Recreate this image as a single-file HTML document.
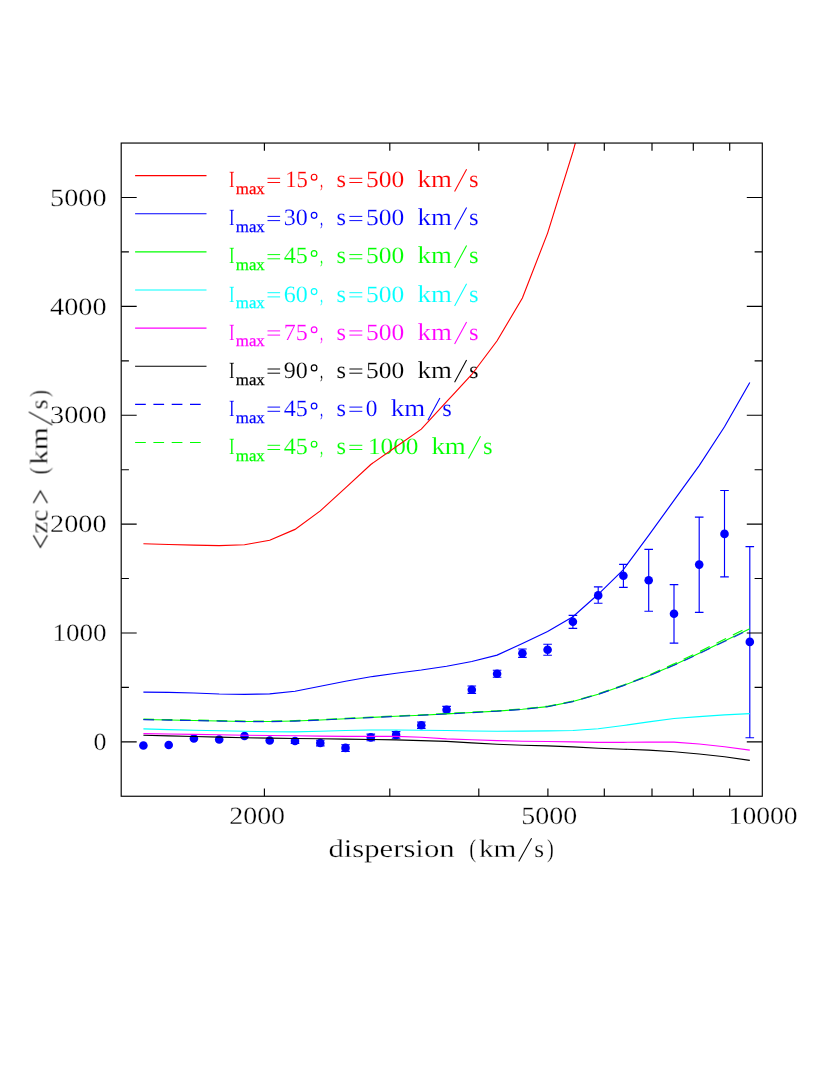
<!DOCTYPE html>
<html><head><meta charset="utf-8"><title>plot</title>
<style>
html,body{margin:0;padding:0;background:#fff;}
body{width:830px;height:1075px;overflow:hidden;}
svg{display:block;}
text{font-family:"Liberation Serif",serif;stroke:#fff;stroke-width:0.28px;paint-order:fill stroke;text-rendering:geometricPrecision;}
.lg text{stroke-width:0.14px;}
</style></head><body>
<svg width="830" height="1075" viewBox="0 0 830 1075">
<rect width="830" height="1075" fill="#fff"/>
<defs><clipPath id="c"><rect x="121.2" y="143.05" width="641.1" height="653.2"/></clipPath><filter id="f" filterUnits="userSpaceOnUse" x="0" y="0" width="830" height="1075"><feOffset dx="0" dy="0"/></filter></defs>
<g filter="url(#f)">
<path d="M135.1,175.6H206.5" stroke="#ff0000" stroke-width="1.15"/>
<g fill="#ff0000" class="lg"><text transform="translate(229.00,187.20) scale(0.7249,1.0000)" font-size="23.2">I</text><text transform="translate(235.80,193.80) scale(1.0269,1.0000)" font-size="16.4" style="stroke:#ff0000;stroke-width:0.25px">max</text><path d="M267.5,178.3H280.1M267.5,182.5H280.1" stroke="#ff0000" stroke-width="0.95" fill="none"/><text transform="translate(285.20,187.20) scale(0.9701,1.0000)" font-size="23.4">15</text><ellipse cx="314.1" cy="177.20" rx="2.8" ry="2.95" fill="none" stroke="#ff0000" stroke-width="1.2"/><text transform="translate(320.00,187.20) scale(0.5299,1.0000)" font-size="23.4">,</text><text transform="translate(336.60,187.20) scale(1.0092,1.0000)" font-size="24.2">s</text><path d="M349.4,178.3H362.3M349.4,182.5H362.3" stroke="#ff0000" stroke-width="0.95" fill="none"/><text transform="translate(366.10,187.20) scale(1.0912,1.0000)" font-size="23.4">500</text><text transform="translate(417.50,187.20) scale(1.1123,1.0000)" font-size="24.2">km</text><path d="M454.6,191.5L466.6,169.3" stroke="#ff0000" stroke-width="1.05" fill="none"/><text transform="translate(469.00,187.20) scale(1.0198,1.0000)" font-size="24.2">s</text></g>
<path d="M135.1,213.7H206.5" stroke="#0000ff" stroke-width="1.15"/>
<g fill="#0000ff" class="lg"><text transform="translate(229.00,225.34) scale(0.7249,1.0000)" font-size="23.2">I</text><text transform="translate(235.80,231.94) scale(1.0269,1.0000)" font-size="16.4" style="stroke:#0000ff;stroke-width:0.25px">max</text><path d="M267.5,216.4H280.1M267.5,220.6H280.1" stroke="#0000ff" stroke-width="0.95" fill="none"/><text transform="translate(283.80,225.34) scale(1.0299,1.0000)" font-size="23.4">30</text><ellipse cx="314.1" cy="215.34" rx="2.8" ry="2.95" fill="none" stroke="#0000ff" stroke-width="1.2"/><text transform="translate(320.00,225.34) scale(0.5299,1.0000)" font-size="23.4">,</text><text transform="translate(336.60,225.34) scale(1.0092,1.0000)" font-size="24.2">s</text><path d="M349.4,216.4H362.3M349.4,220.6H362.3" stroke="#0000ff" stroke-width="0.95" fill="none"/><text transform="translate(366.10,225.34) scale(1.0912,1.0000)" font-size="23.4">500</text><text transform="translate(417.50,225.34) scale(1.1123,1.0000)" font-size="24.2">km</text><path d="M454.6,229.6L466.6,207.4" stroke="#0000ff" stroke-width="1.05" fill="none"/><text transform="translate(469.00,225.34) scale(1.0198,1.0000)" font-size="24.2">s</text></g>
<path d="M135.1,251.8H206.5" stroke="#00ff00" stroke-width="1.15"/>
<g fill="#00ff00" class="lg"><text transform="translate(229.00,263.48) scale(0.7249,1.0000)" font-size="23.2">I</text><text transform="translate(235.80,270.08) scale(1.0269,1.0000)" font-size="16.4" style="stroke:#00ff00;stroke-width:0.25px">max</text><path d="M267.5,254.6H280.1M267.5,258.8H280.1" stroke="#00ff00" stroke-width="0.95" fill="none"/><text transform="translate(283.80,263.48) scale(1.0299,1.0000)" font-size="23.4">45</text><ellipse cx="314.1" cy="253.48" rx="2.8" ry="2.95" fill="none" stroke="#00ff00" stroke-width="1.2"/><text transform="translate(320.00,263.48) scale(0.5299,1.0000)" font-size="23.4">,</text><text transform="translate(336.60,263.48) scale(1.0092,1.0000)" font-size="24.2">s</text><path d="M349.4,254.6H362.3M349.4,258.8H362.3" stroke="#00ff00" stroke-width="0.95" fill="none"/><text transform="translate(366.10,263.48) scale(1.0912,1.0000)" font-size="23.4">500</text><text transform="translate(417.50,263.48) scale(1.1123,1.0000)" font-size="24.2">km</text><path d="M454.6,267.8L466.6,245.6" stroke="#00ff00" stroke-width="1.05" fill="none"/><text transform="translate(469.00,263.48) scale(1.0198,1.0000)" font-size="24.2">s</text></g>
<path d="M135.1,290.0H206.5" stroke="#00ffff" stroke-width="1.15"/>
<g fill="#00ffff" class="lg"><text transform="translate(229.00,301.62) scale(0.7249,1.0000)" font-size="23.2">I</text><text transform="translate(235.80,308.22) scale(1.0269,1.0000)" font-size="16.4" style="stroke:#00ffff;stroke-width:0.25px">max</text><path d="M267.5,292.7H280.1M267.5,296.9H280.1" stroke="#00ffff" stroke-width="0.95" fill="none"/><text transform="translate(283.80,301.62) scale(1.0299,1.0000)" font-size="23.4">60</text><ellipse cx="314.1" cy="291.62" rx="2.8" ry="2.95" fill="none" stroke="#00ffff" stroke-width="1.2"/><text transform="translate(320.00,301.62) scale(0.5299,1.0000)" font-size="23.4">,</text><text transform="translate(336.60,301.62) scale(1.0092,1.0000)" font-size="24.2">s</text><path d="M349.4,292.7H362.3M349.4,296.9H362.3" stroke="#00ffff" stroke-width="0.95" fill="none"/><text transform="translate(366.10,301.62) scale(1.0912,1.0000)" font-size="23.4">500</text><text transform="translate(417.50,301.62) scale(1.1123,1.0000)" font-size="24.2">km</text><path d="M454.6,305.9L466.6,283.7" stroke="#00ffff" stroke-width="1.05" fill="none"/><text transform="translate(469.00,301.62) scale(1.0198,1.0000)" font-size="24.2">s</text></g>
<path d="M135.1,328.1H206.5" stroke="#ff00ff" stroke-width="1.15"/>
<g fill="#ff00ff" class="lg"><text transform="translate(229.00,339.76) scale(0.7249,1.0000)" font-size="23.2">I</text><text transform="translate(235.80,346.36) scale(1.0269,1.0000)" font-size="16.4" style="stroke:#ff00ff;stroke-width:0.25px">max</text><path d="M267.5,330.9H280.1M267.5,335.1H280.1" stroke="#ff00ff" stroke-width="0.95" fill="none"/><text transform="translate(283.80,339.76) scale(1.0299,1.0000)" font-size="23.4">75</text><ellipse cx="314.1" cy="329.76" rx="2.8" ry="2.95" fill="none" stroke="#ff00ff" stroke-width="1.2"/><text transform="translate(320.00,339.76) scale(0.5299,1.0000)" font-size="23.4">,</text><text transform="translate(336.60,339.76) scale(1.0092,1.0000)" font-size="24.2">s</text><path d="M349.4,330.9H362.3M349.4,335.1H362.3" stroke="#ff00ff" stroke-width="0.95" fill="none"/><text transform="translate(366.10,339.76) scale(1.0912,1.0000)" font-size="23.4">500</text><text transform="translate(417.50,339.76) scale(1.1123,1.0000)" font-size="24.2">km</text><path d="M454.6,344.1L466.6,321.9" stroke="#ff00ff" stroke-width="1.05" fill="none"/><text transform="translate(469.00,339.76) scale(1.0198,1.0000)" font-size="24.2">s</text></g>
<path d="M135.1,366.2H206.5" stroke="#000000" stroke-width="1.15"/>
<g fill="#000000" class="lg"><text transform="translate(229.00,377.90) scale(0.7249,1.0000)" font-size="23.2">I</text><text transform="translate(235.80,384.50) scale(1.0269,1.0000)" font-size="16.4" style="stroke:#000000;stroke-width:0.25px">max</text><path d="M267.5,369.0H280.1M267.5,373.2H280.1" stroke="#000000" stroke-width="0.95" fill="none"/><text transform="translate(283.80,377.90) scale(1.0299,1.0000)" font-size="23.4">90</text><ellipse cx="314.1" cy="367.90" rx="2.8" ry="2.95" fill="none" stroke="#000000" stroke-width="1.2"/><text transform="translate(320.00,377.90) scale(0.5299,1.0000)" font-size="23.4">,</text><text transform="translate(336.60,377.90) scale(1.0092,1.0000)" font-size="24.2">s</text><path d="M349.4,369.0H362.3M349.4,373.2H362.3" stroke="#000000" stroke-width="0.95" fill="none"/><text transform="translate(366.10,377.90) scale(1.0912,1.0000)" font-size="23.4">500</text><text transform="translate(417.50,377.90) scale(1.1123,1.0000)" font-size="24.2">km</text><path d="M454.6,382.2L466.6,360.0" stroke="#000000" stroke-width="1.05" fill="none"/><text transform="translate(469.00,377.90) scale(1.0198,1.0000)" font-size="24.2">s</text></g>
<path d="M135.1,404.4H206.5" stroke="#0000ff" stroke-width="1.15" stroke-dasharray="10.7 7.6"/>
<g fill="#0000ff" class="lg"><text transform="translate(229.00,416.04) scale(0.7249,1.0000)" font-size="23.2">I</text><text transform="translate(235.80,422.64) scale(1.0269,1.0000)" font-size="16.4" style="stroke:#0000ff;stroke-width:0.25px">max</text><path d="M267.5,407.1H280.1M267.5,411.3H280.1" stroke="#0000ff" stroke-width="0.95" fill="none"/><text transform="translate(283.80,416.04) scale(1.0299,1.0000)" font-size="23.4">45</text><ellipse cx="314.1" cy="406.04" rx="2.8" ry="2.95" fill="none" stroke="#0000ff" stroke-width="1.2"/><text transform="translate(320.00,416.04) scale(0.5299,1.0000)" font-size="23.4">,</text><text transform="translate(336.60,416.04) scale(1.0092,1.0000)" font-size="24.2">s</text><path d="M349.4,407.1H362.3M349.4,411.3H362.3" stroke="#0000ff" stroke-width="0.95" fill="none"/><text transform="translate(365.80,416.04) scale(1.0000,1.0000)" font-size="23.4">0</text><text transform="translate(390.80,416.04) scale(1.1123,1.0000)" font-size="24.2">km</text><path d="M427.9,420.3L439.9,398.1" stroke="#0000ff" stroke-width="1.05" fill="none"/><text transform="translate(442.30,416.04) scale(1.0198,1.0000)" font-size="24.2">s</text></g>
<path d="M135.1,442.5H206.5" stroke="#00ff00" stroke-width="1.15" stroke-dasharray="10.7 7.6"/>
<g fill="#00ff00" class="lg"><text transform="translate(229.00,454.18) scale(0.7249,1.0000)" font-size="23.2">I</text><text transform="translate(235.80,460.78) scale(1.0269,1.0000)" font-size="16.4" style="stroke:#00ff00;stroke-width:0.25px">max</text><path d="M267.5,445.3H280.1M267.5,449.5H280.1" stroke="#00ff00" stroke-width="0.95" fill="none"/><text transform="translate(283.80,454.18) scale(1.0299,1.0000)" font-size="23.4">45</text><ellipse cx="314.1" cy="444.18" rx="2.8" ry="2.95" fill="none" stroke="#00ff00" stroke-width="1.2"/><text transform="translate(320.00,454.18) scale(0.5299,1.0000)" font-size="23.4">,</text><text transform="translate(336.60,454.18) scale(1.0092,1.0000)" font-size="24.2">s</text><path d="M349.4,445.3H362.3M349.4,449.5H362.3" stroke="#00ff00" stroke-width="0.95" fill="none"/><text transform="translate(367.90,454.18) scale(1.0812,1.0000)" font-size="23.4">1000</text><text transform="translate(431.40,454.18) scale(1.1123,1.0000)" font-size="24.2">km</text><path d="M468.5,458.5L480.5,436.3" stroke="#00ff00" stroke-width="1.05" fill="none"/><text transform="translate(482.90,454.18) scale(1.0198,1.0000)" font-size="24.2">s</text></g>
<circle cx="143.4" cy="745.5" r="4.3" fill="#0000ff"/>
<circle cx="168.7" cy="745" r="4.3" fill="#0000ff"/>
<circle cx="193.9" cy="738.5" r="4.3" fill="#0000ff"/>
<circle cx="219.2" cy="739.5" r="4.3" fill="#0000ff"/>
<circle cx="244.5" cy="736" r="4.3" fill="#0000ff"/>
<circle cx="269.7" cy="740.5" r="4.3" fill="#0000ff"/>
<path d="M295.0,738.6V743.4M290.7,738.6h8.6M290.7,743.4h8.6" stroke="#0000ff" stroke-width="1.15" fill="none"/>
<circle cx="295.0" cy="741" r="4.3" fill="#0000ff"/>
<path d="M320.3,740.2V745.8M316.0,740.2h8.6M316.0,745.8h8.6" stroke="#0000ff" stroke-width="1.15" fill="none"/>
<circle cx="320.3" cy="743" r="4.3" fill="#0000ff"/>
<path d="M345.5,744.7V751.3M341.2,744.7h8.6M341.2,751.3h8.6" stroke="#0000ff" stroke-width="1.15" fill="none"/>
<circle cx="345.5" cy="747.9" r="4.3" fill="#0000ff"/>
<path d="M370.8,734.1V740.7M366.5,734.1h8.6M366.5,740.7h8.6" stroke="#0000ff" stroke-width="1.15" fill="none"/>
<circle cx="370.8" cy="737.4" r="4.3" fill="#0000ff"/>
<path d="M396.1,731.6V738.2M391.8,731.6h8.6M391.8,738.2h8.6" stroke="#0000ff" stroke-width="1.15" fill="none"/>
<circle cx="396.1" cy="734.9" r="4.3" fill="#0000ff"/>
<path d="M421.3,722.0V728.4M417.0,722.0h8.6M417.0,728.4h8.6" stroke="#0000ff" stroke-width="1.15" fill="none"/>
<circle cx="421.3" cy="725.2" r="4.3" fill="#0000ff"/>
<path d="M446.6,706.3V713.3M442.3,706.3h8.6M442.3,713.3h8.6" stroke="#0000ff" stroke-width="1.15" fill="none"/>
<circle cx="446.6" cy="709.7" r="4.3" fill="#0000ff"/>
<path d="M471.8,686V693.4M467.5,686h8.6M467.5,693.4h8.6" stroke="#0000ff" stroke-width="1.15" fill="none"/>
<circle cx="471.8" cy="689.7" r="4.3" fill="#0000ff"/>
<path d="M497.1,670.2V677.2M492.8,670.2h8.6M492.8,677.2h8.6" stroke="#0000ff" stroke-width="1.15" fill="none"/>
<circle cx="497.1" cy="673.7" r="4.3" fill="#0000ff"/>
<path d="M522.4,649V657.4M518.1,649h8.6M518.1,657.4h8.6" stroke="#0000ff" stroke-width="1.15" fill="none"/>
<circle cx="522.4" cy="653.2" r="4.3" fill="#0000ff"/>
<path d="M547.6,644.2V655.2M543.3,644.2h8.6M543.3,655.2h8.6" stroke="#0000ff" stroke-width="1.15" fill="none"/>
<circle cx="547.6" cy="649.7" r="4.3" fill="#0000ff"/>
<path d="M572.9,615.3V628.4M568.6,615.3h8.6M568.6,628.4h8.6" stroke="#0000ff" stroke-width="1.15" fill="none"/>
<circle cx="572.9" cy="621.7" r="4.3" fill="#0000ff"/>
<path d="M598.2,586.8V603.2M593.9,586.8h8.6M593.9,603.2h8.6" stroke="#0000ff" stroke-width="1.15" fill="none"/>
<circle cx="598.2" cy="595.4" r="4.3" fill="#0000ff"/>
<path d="M623.4,564.4V587.4M619.1,564.4h8.6M619.1,587.4h8.6" stroke="#0000ff" stroke-width="1.15" fill="none"/>
<circle cx="623.4" cy="575.7" r="4.3" fill="#0000ff"/>
<path d="M648.7,549.4V611.2M644.4,549.4h8.6M644.4,611.2h8.6" stroke="#0000ff" stroke-width="1.15" fill="none"/>
<circle cx="648.7" cy="580.2" r="4.3" fill="#0000ff"/>
<path d="M674.0,584.6V643.1M669.7,584.6h8.6M669.7,643.1h8.6" stroke="#0000ff" stroke-width="1.15" fill="none"/>
<circle cx="674.0" cy="613.7" r="4.3" fill="#0000ff"/>
<path d="M699.2,517.1V612.3M694.9,517.1h8.6M694.9,612.3h8.6" stroke="#0000ff" stroke-width="1.15" fill="none"/>
<circle cx="699.2" cy="564.6" r="4.3" fill="#0000ff"/>
<path d="M724.5,490.5V576.8M720.2,490.5h8.6M720.2,576.8h8.6" stroke="#0000ff" stroke-width="1.15" fill="none"/>
<circle cx="724.5" cy="533.9" r="4.3" fill="#0000ff"/>
<path d="M749.8,546.6V737.7M745.5,546.6h8.6M745.5,737.7h8.6" stroke="#0000ff" stroke-width="1.15" fill="none"/>
<circle cx="749.8" cy="641.9" r="4.3" fill="#0000ff"/>
<g clip-path="url(#c)">
<polyline points="143.4,543.8 168.7,544.5 193.9,545.1 219.2,545.6 244.5,544.8 269.7,540.3 295.0,529.4 320.3,510.9 345.5,487.8 370.8,464.5 396.1,446.7 421.3,429.1 446.6,401.7 471.8,374.5 497.1,340.8 522.4,298.0 547.6,233.1 572.9,151.9 598.2,60.0" fill="none" stroke="#ff0000" stroke-width="1.15" />
<polyline points="143.4,692.1 168.7,692.3 193.9,693.0 219.2,694.0 244.5,694.4 269.7,693.9 295.0,691.3 320.3,686.2 345.5,681.2 370.8,676.8 396.1,673.2 421.3,670.0 446.6,666.2 471.8,661.5 497.1,655.1 522.4,643.5 547.6,631.6 572.9,616.7 598.2,594.3 623.4,569.6 648.7,535.3 674.0,500.4 699.2,465.6 724.5,426.8 749.8,382.5" fill="none" stroke="#0000ff" stroke-width="1.15" />
<polyline points="143.4,719.5 168.7,720.0 193.9,720.5 219.2,721.0 244.5,721.5 269.7,721.5 295.0,721.0 320.3,720.0 345.5,718.7 370.8,717.5 396.1,716.3 421.3,715.2 446.6,713.9 471.8,712.5 497.1,711.1 522.4,709.3 547.6,706.6 572.9,701.5 598.2,694.3 623.4,685.5 648.7,675.8 674.0,665.0 699.2,653.2 724.5,641.0 749.8,628.8" fill="none" stroke="#00ff00" stroke-width="1.15" />
<polyline points="143.4,719.1 168.7,719.6 193.9,720.1 219.2,720.6 244.5,721.1 269.7,721.1 295.0,720.6 320.3,719.6 345.5,718.4 370.8,717.1 396.1,715.9 421.3,714.9 446.6,713.5 471.8,712.1 497.1,710.8 522.4,708.9 547.6,706.2 572.9,701.1 598.2,693.9 623.4,685.1 648.7,675.1 674.0,663.9 699.2,651.8 724.5,639.2 749.8,626.6" fill="none" stroke="#00ff00" stroke-width="1.15" stroke-dasharray="10.7 7.6"/>
<polyline points="143.4,719.6 168.7,720.1 193.9,720.6 219.2,721.1 244.5,721.6 269.7,721.6 295.0,721.1 320.3,720.1 345.5,718.8 370.8,717.6 396.1,716.4 421.3,715.3 446.6,714.0 471.8,712.6 497.1,711.2 522.4,709.4 547.6,706.7 572.9,701.6 598.2,694.4 623.4,685.6 648.7,676.0 674.0,665.3 699.2,653.6 724.5,641.5 749.8,629.4" fill="none" stroke="#0000ff" stroke-width="1.15" stroke-dasharray="10.7 7.6" stroke-opacity="0.8"/>
<polyline points="143.4,728.9 168.7,729.6 193.9,730.2 219.2,730.8 244.5,731.3 269.7,731.7 295.0,731.8 320.3,731.2 345.5,730.5 370.8,730.0 396.1,730.0 421.3,730.2 446.6,730.5 471.8,731.0 497.1,731.2 522.4,731.1 547.6,730.9 572.9,730.5 598.2,728.8 623.4,725.5 648.7,721.9 674.0,718.5 699.2,716.6 724.5,714.9 749.8,713.6" fill="none" stroke="#00ffff" stroke-width="1.15" />
<polyline points="143.4,733.6 168.7,734.0 193.9,734.4 219.2,734.8 244.5,735.2 269.7,735.5 295.0,735.8 320.3,736.1 345.5,736.3 370.8,736.3 396.1,736.4 421.3,737.3 446.6,738.9 471.8,739.8 497.1,740.6 522.4,741.2 547.6,741.5 572.9,741.9 598.2,742.4 623.4,742.3 648.7,742.1 674.0,742.1 699.2,744.0 724.5,746.8 749.8,750.1" fill="none" stroke="#ff00ff" stroke-width="1.15" />
<polyline points="143.4,735.2 168.7,735.9 193.9,736.5 219.2,737.1 244.5,737.7 269.7,738.1 295.0,738.5 320.3,738.8 345.5,739.1 370.8,739.5 396.1,739.9 421.3,740.6 446.6,741.4 471.8,742.9 497.1,744.3 522.4,745.2 547.6,745.9 572.9,746.9 598.2,748.2 623.4,749.2 648.7,750.1 674.0,751.8 699.2,754.0 724.5,756.8 749.8,760.4" fill="none" stroke="#000000" stroke-width="1.15" />
</g>
<rect x="121.2" y="143.05" width="641.1" height="653.2" fill="none" stroke="#000" stroke-width="1.15"/>
<path d="M121.2,741.9h15.5M762.3,741.9h-15.5M121.2,687.4h7.7M762.3,687.4h-7.7M121.2,633.0h15.5M762.3,633.0h-15.5M121.2,578.5h7.7M762.3,578.5h-7.7M121.2,524.1h15.5M762.3,524.1h-15.5M121.2,469.7h7.7M762.3,469.7h-7.7M121.2,415.2h15.5M762.3,415.2h-15.5M121.2,360.8h7.7M762.3,360.8h-7.7M121.2,306.4h15.5M762.3,306.4h-15.5M121.2,251.9h7.7M762.3,251.9h-7.7M121.2,197.5h15.5M762.3,197.5h-15.5M264.4,796.3v-7.7M264.4,143.05v7.7M389.8,796.3v-7.7M389.8,143.05v7.7M478.8,796.3v-7.7M478.8,143.05v7.7M547.9,796.3v-7.7M547.9,143.05v7.7M604.3,796.3v-7.7M604.3,143.05v7.7M652.0,796.3v-7.7M652.0,143.05v7.7M693.3,796.3v-7.7M693.3,143.05v7.7M729.7,796.3v-7.7M729.7,143.05v7.7" stroke="#000" stroke-width="1.15" fill="none"/>
<text transform="translate(93.60,750.06) scale(1.0442,1.0000)" font-size="24.9">0</text>
<text transform="translate(52.40,641.19) scale(1.0884,1.0000)" font-size="24.9">1000</text>
<text transform="translate(50.10,532.31) scale(1.1345,1.0000)" font-size="24.9">2000</text>
<text transform="translate(50.10,423.44) scale(1.1345,1.0000)" font-size="24.9">3000</text>
<text transform="translate(50.10,314.56) scale(1.1345,1.0000)" font-size="24.9">4000</text>
<text transform="translate(50.10,205.69) scale(1.1345,1.0000)" font-size="24.9">5000</text>
<text transform="translate(229.20,824.10) scale(1.1225,1.0000)" font-size="24.9">2000</text>
<text transform="translate(521.30,824.10) scale(1.1245,1.0000)" font-size="24.9">5000</text>
<text transform="translate(728.60,824.10) scale(1.1100,1.0000)" font-size="24.9">10000</text>
<text transform="translate(328.40,856.60) scale(1.2038,1.0000)" font-size="25.5">dispersion</text>
<text transform="translate(469.30,856.60) scale(0.8126,1.0000)" font-size="25.5">(</text>
<text transform="translate(478.90,856.60) scale(1.1644,1.0000)" font-size="25.2">km</text>
<path d="M518.7,861.5L531.6,838.2" stroke="#000" stroke-width="1.05" fill="none"/>
<text transform="translate(534.30,856.60) scale(0.9997,1.0000)" font-size="25.2">s</text>
<text transform="translate(547.10,856.60) scale(0.8008,1.0000)" font-size="25.5">)</text>
<g transform="translate(47.4,547.6) rotate(-90)">
<path d="M12.3,-14.1L0.3,-7.05L12.3,0" fill="none" stroke="#000" stroke-width="1.15"/>
<text transform="translate(14.10,0.00) scale(1.0555,1.0000)" font-size="25.5">zc</text>
<path d="M44.6,-14.1L56.6,-7.05L44.6,0" fill="none" stroke="#000" stroke-width="1.15"/>
<text transform="translate(73.30,0.00) scale(0.8126,1.0000)" font-size="25.5">(</text>
<text transform="translate(82.90,0.00) scale(1.1644,1.0000)" font-size="25.2">km</text>
<path d="M122.7,4.9L135.6,-18.4" stroke="#000" stroke-width="1.05" fill="none"/>
<text transform="translate(138.20,0.00) scale(0.9997,1.0000)" font-size="25.2">s</text>
<text transform="translate(150.80,0.00) scale(0.7890,1.0000)" font-size="25.5">)</text>
</g>
</g>
</svg></body></html>
